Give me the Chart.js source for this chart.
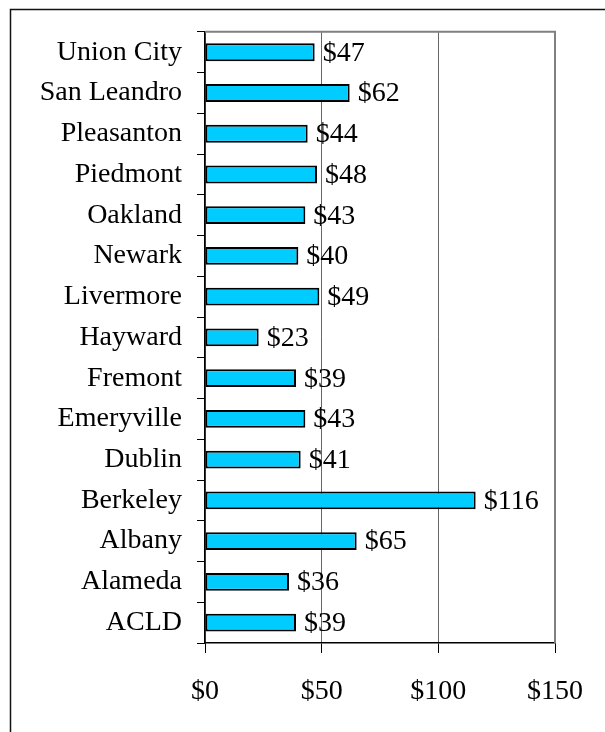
<!DOCTYPE html>
<html>
<head>
<meta charset="utf-8">
<script src="https://cdn.jsdelivr.net/npm/chart.js@4/dist/chart.umd.min.js"></script>
<style>
  html, body { margin: 0; padding: 0; background: #fff; }
  #wrap { width: 605px; height: 732px; position: relative; }
</style>
</head>
<body>
<div id="wrap"><canvas id="graphic1" width="605" height="732"></canvas></div>
<script>
// Dados do gráfico
const cities = ['Union City', 'San Leandro', 'Pleasanton', 'Piedmont', 'Oakland', 'Newark',
  'Livermore', 'Hayward', 'Fremont', 'Emeryville', 'Dublin', 'Berkeley', 'Albany', 'Alameda', 'ACLD'];
const amounts = [47, 62, 44, 48, 43, 40, 49, 23, 39, 43, 41, 116, 65, 36, 39];
const xTicks = [0, 50, 100, 150];

const FONT = 'Liberation Serif';

// moldura externa + borda cinza do plot
const framePlugin = {
  id: 'frame',
  beforeDraw(chart) {
    const c = chart.ctx;
    c.save();
    c.fillStyle = '#fff';
    c.fillRect(0, 0, chart.width, chart.height);
    c.strokeStyle = '#111';
    c.lineWidth = 1.5;
    c.strokeRect(10.5, 9.5, 800, 900);
    c.restore();
  },
  afterDraw(chart) {
    const a = chart.chartArea;
    const c = chart.ctx;
    c.save();
    c.strokeStyle = '#808080';
    c.lineWidth = 2;
    c.beginPath();
    c.moveTo(a.left, a.top);
    c.lineTo(a.right, a.top);
    c.lineTo(a.right, a.bottom);
    c.stroke();
    c.restore();
  }
};

// rótulos de valor ao lado das barras
const valueLabels = {
  id: 'valueLabels',
  afterDatasetsDraw(chart) {
    const c = chart.ctx;
    const meta = chart.getDatasetMeta(0);
    c.save();
    c.font = '28px "' + FONT + '"';
    c.fillStyle = '#000';
    c.textBaseline = 'middle';
    c.textAlign = 'left';
    meta.data.forEach((bar, i) => {
      c.fillText('$' + amounts[i], bar.x + 8, bar.y + 1);
    });
    c.restore();
  }
};

const ctx = document.querySelector('#graphic1').getContext('2d');
const myChart = new Chart(ctx, {
  type: 'bar',
  data: {
    labels: cities,
    datasets: [{
      data: amounts,
      backgroundColor: '#00CCFF',
      borderColor: '#000',
      borderWidth: 2,
      borderSkipped: false,
      categoryPercentage: 1,
      barPercentage: 0.44
    }]
  },
  plugins: [framePlugin, valueLabels],
  options: {
    indexAxis: 'y',
    responsive: false,
    animation: false,
    layout: { padding: { top: 29, right: 48, left: 0, bottom: 0 } },
    plugins: {
      legend: { display: false },
      tooltip: { enabled: false }
    },
    scales: {
      x: {
        min: 0,
        max: 150,
        afterBuildTicks(scale) {
          scale.ticks = xTicks.map(v => ({ value: v }));
        },
        afterFit(scale) { scale.height = 89; },
        grid: { color: '#666', lineWidth: 1, tickColor: '#000', tickLength: 10 },
        border: { color: '#000', width: 1.5 },
        ticks: {
          color: '#000',
          padding: 22,
          font: { family: FONT, size: 28 },
          callback: v => '$' + v
        }
      },
      y: {
        afterFit(scale) { scale.width = 205; },
        grid: { offset: true, drawOnChartArea: false, tickColor: '#000', tickLength: 8 },
        border: { color: '#000', width: 1.5 },
        ticks: {
          color: '#000',
          padding: 15,
          font: { family: FONT, size: 28 }
        }
      }
    }
  }
});
</script>
</body>
</html>
